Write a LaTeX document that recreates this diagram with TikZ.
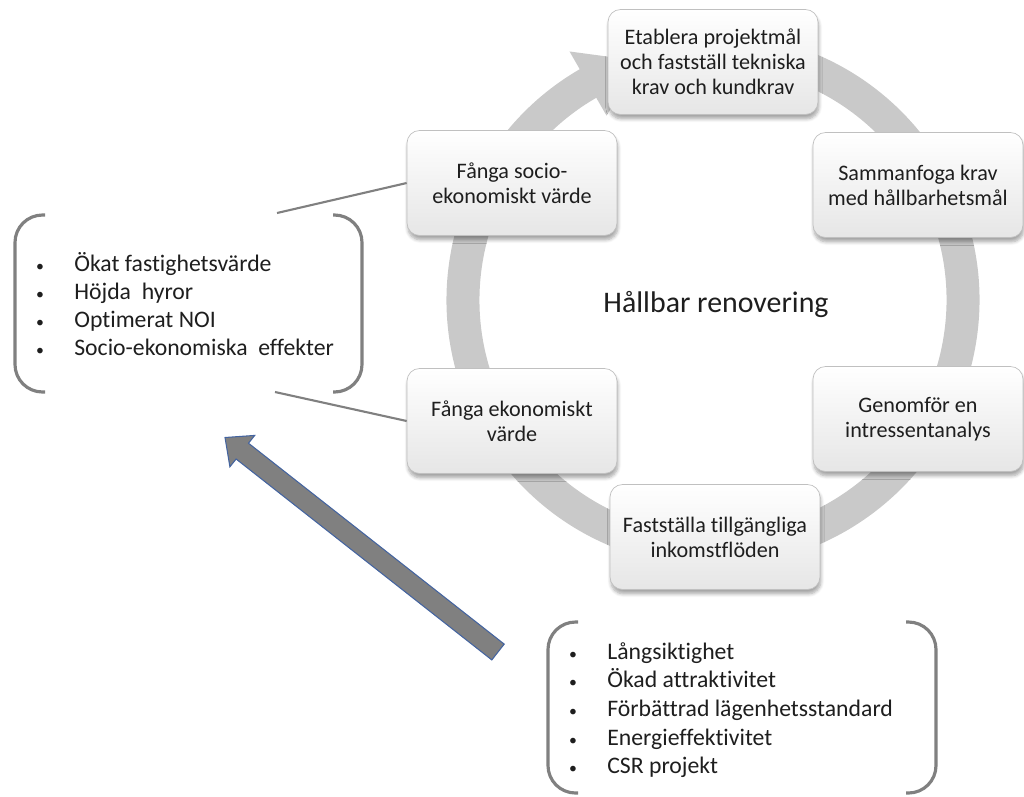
\documentclass[tikz,border=0pt]{standalone}
\usepackage{fontspec}
\setmainfont{Carlito}[Ligatures=NoCommon]
\usetikzlibrary{shadows.blur}
\definecolor{ringgray}{RGB}{201,201,201}
\definecolor{bracketgray}{RGB}{128,128,128}
\definecolor{boxedge}{RGB}{192,192,192}
\definecolor{boxbottom}{RGB}{230,230,230}
\definecolor{arrowfill}{RGB}{128,128,128}
\definecolor{arrowedge}{RGB}{68,100,160}
\definecolor{textgray}{RGB}{30,30,30}
\newcommand\bitem{\makebox[0.8cm][l]{\hspace{1pt}{\fontsize{9}{9}\selectfont\textbullet}}}
\tikzset{
  stepbox/.style={draw=boxedge, line width=0.4pt, rounded corners=0.25cm,
    top color=white, bottom color=boxbottom, minimum width=4.2cm, minimum height=2.1cm,
    align=center, text=textgray, font=\fontsize{12.6}{14.2}\selectfont,
    blur shadow={shadow xshift=0.5pt, shadow yshift=-2.5pt, shadow blur steps=6, shadow opacity=35}},
  linkline/.style={draw=bracketgray, line width=1.2pt},
  bracketline/.style={draw=bracketgray, line width=1.8pt, rounded corners=0.55cm},
  listtext/.style={align=left, inner sep=0pt, text=textgray, font=\fontsize{13.5}{15.9}\selectfont}
}
\begin{document}
\begin{tikzpicture}[x=0.02cm, y=-0.02cm]
    \useasboundingbox (0,0) rectangle (1024,796);
    % Ring with arrow head
    \begin{scope}[shift={(713,300)}]
        \draw[ringgray, line width=0.66cm] (-80:250) arc[start angle=-80, end angle=241, radius=250];
        \fill[ringgray] (240:287) -- (253:250) -- (240:213) -- cycle;
    \end{scope}
    % Steps of the cycle
    \node[stepbox] (goalbox) at (713,62) {Etablera projektmål\\och fastställ tekniska\\krav och kundkrav};
    \node[stepbox] (mergebox) at (918,185) {Sammanfoga krav\\med hållbarhetsmål};
    \node[stepbox] (stakebox) at (918,419) {Genomför en\\intressentanalys};
    \node[stepbox] (incomebox) at (715,537) {Fastställa tillgängliga\\inkomstflöden};
    \node[stepbox] (ecobox) at (512,421) {Fånga ekonomiskt\\värde};
    \node[stepbox] (sociobox) at (512,183) {Fånga socio-\\ekonomiskt värde};
    % Title in the middle
    \node[text=textgray, font=\fontsize{17}{20}\selectfont] (title) at (716,304) {Hållbar renovering};
    % Left list with brackets
    \node[listtext, anchor=west] (gainlist) at (34,304) {\bitem Ökat fastighetsvärde\\
        \bitem Höjda~ hyror\\
        \bitem Optimerat NOI\\
        \bitem Socio-ekonomiska~ effekter};
    \draw[bracketline] (45,215) -- (15,215) -- (15,392) -- (45,392);
    \draw[bracketline] (333,215) -- (362,215) -- (362,392) -- (333,392);
    % Lines from the list to the boxes
    \coordinate (gaintop) at (277,213);
    \coordinate (gainbot) at (275,392);
    \draw[linkline] (gaintop) -- (sociobox.west);
    \draw[linkline] (gainbot) -- (ecobox.west);
    % Bottom list with brackets
    \node[listtext, anchor=west, font=\fontsize{13.5}{16.3}\selectfont] (driverlist) at (567,710) {\bitem Långsiktighet\\
        \bitem Ökad attraktivitet\\
        \bitem Förbättrad lägenhetsstandard\\
        \bitem Energieffektivitet\\
        \bitem CSR projekt};
    \draw[bracketline] (578,622) -- (548,622) -- (548,793) -- (578,793);
    \draw[bracketline] (906,622) -- (936,622) -- (936,793) -- (906,793);
    % Big arrow up to the left list
    \draw[arrowedge, fill=arrowfill, line width=0.6pt] (504.2,644.1) -- (248.5,443.2) -- (254.7,435.4)
        -- (225,437.5) -- (229.9,466.8) -- (236.1,459) -- (491.8,659.9) -- cycle;
\end{tikzpicture}
\end{document}
